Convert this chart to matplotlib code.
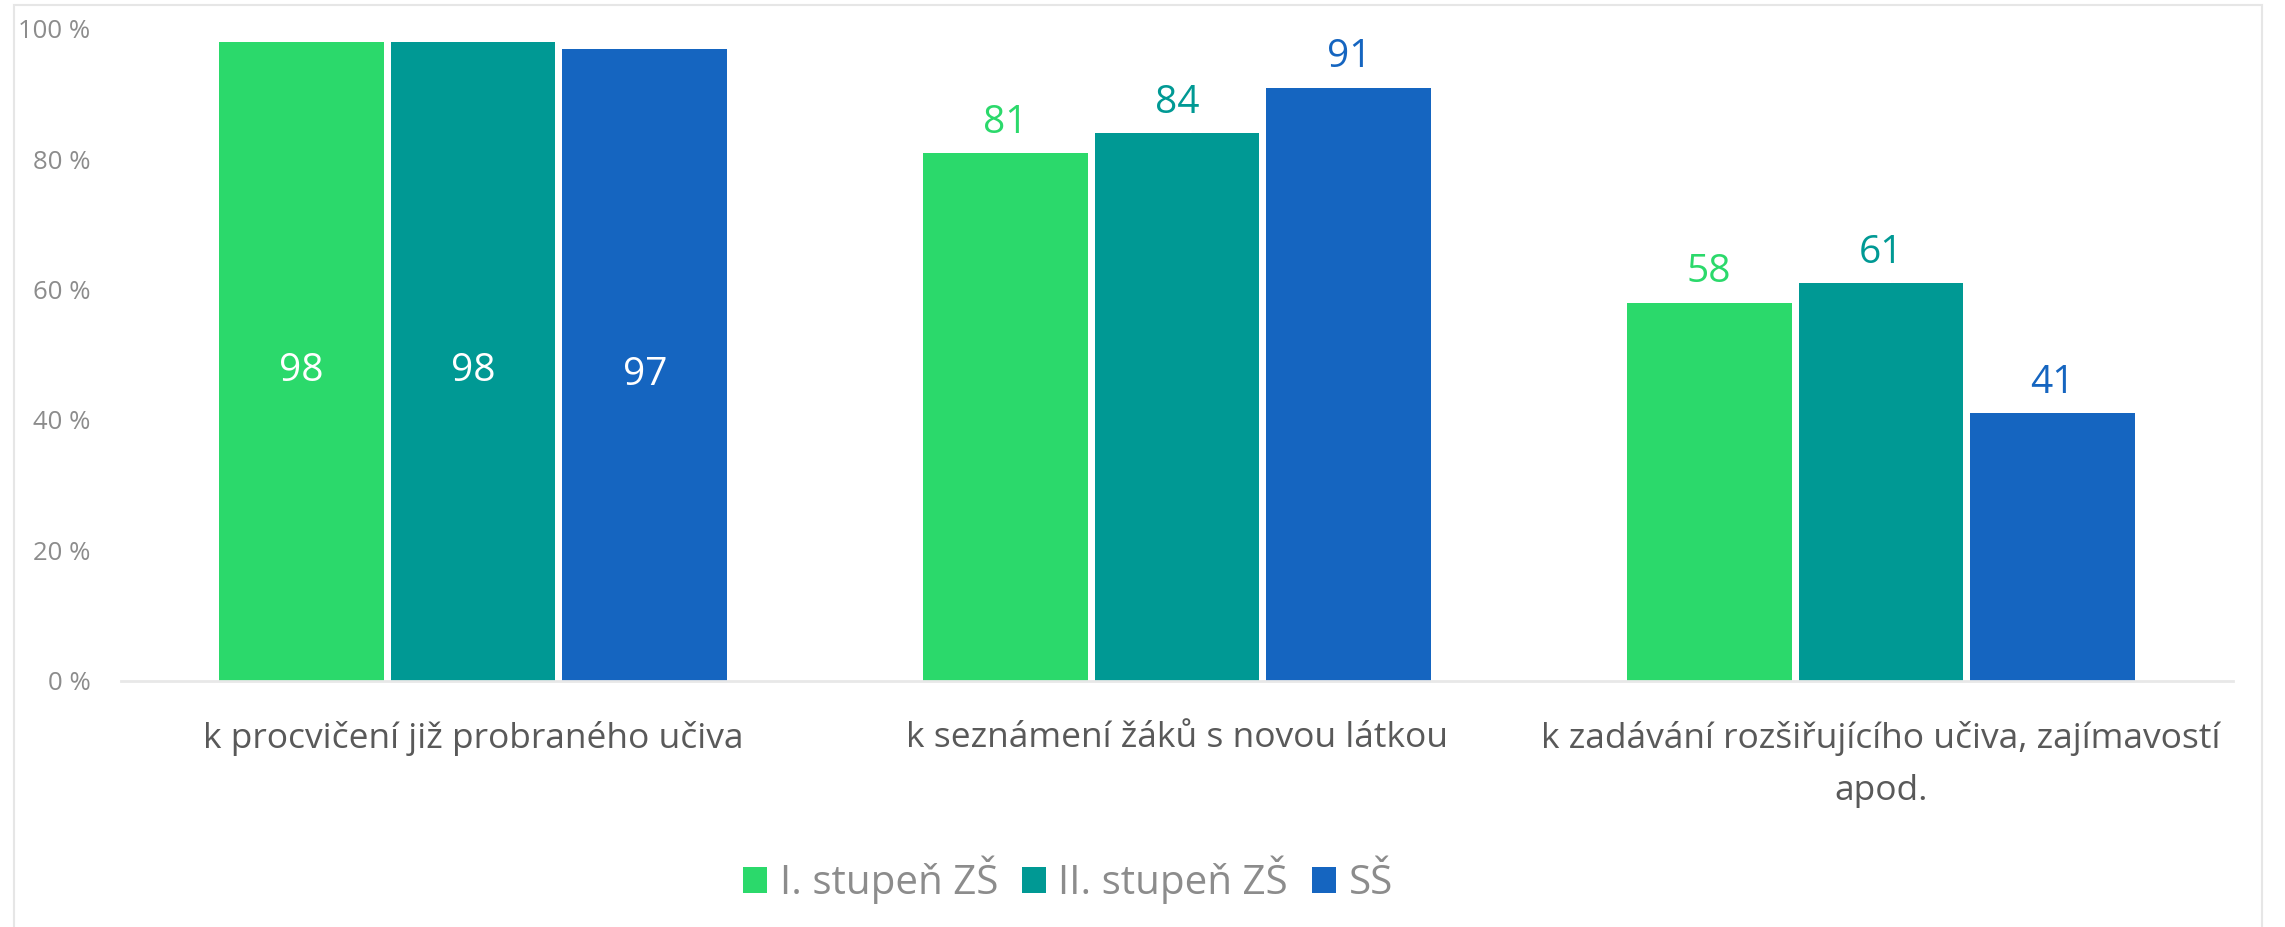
import numpy as np
import matplotlib
matplotlib.use('Agg')
import matplotlib.pyplot as plt
from matplotlib.patches import Patch, Rectangle

plt.rcParams['font.family'] = ['Open Sans', 'DejaVu Sans']

# data
categories = ['k procvičení již probraného učiva',
              'k seznámení žáků s novou látkou',
              'k zadávání rozšiřujícího učiva, zajímavostí\napod.']
series_names = ['I. stupeň ZŠ', 'II. stupeň ZŠ', 'SŠ']
zs1_values = [98, 81, 58]
zs2_values = [98, 84, 61]
ss_values = [97, 91, 41]
y_ticks = [0, 20, 40, 60, 80, 100]

colors = ['#2BD96B', '#009994', '#1565C0']
all_values = [zs1_values, zs2_values, ss_values]

W, H = 2285, 927
fig = plt.figure(figsize=(W / 100, H / 100), dpi=100)

# light frame around the chart
fig.patches.append(Rectangle((14 / W, -0.05), (2262 - 14) / W, 1.05 - 5 / H,
                             transform=fig.transFigure, fill=False,
                             edgecolor='#e6e6e6', linewidth=1.5))

left, right, top, base = 121, 2233, 29, 680.6
ax = fig.add_axes([left / W, 1 - base / H, (right - left) / W, (base - top) / H])

x = np.arange(len(categories))
bar_w = 0.234
step = 0.244

for i, (vals, col) in enumerate(zip(all_values, colors)):
    xs = x + (i - 1) * step
    ax.bar(xs, vals, width=bar_w, color=col, linewidth=0)
    for xi, v in zip(xs, vals):
        if v >= 95:
            # label sits inside the bar
            ax.annotate(f'{v}', (xi, v / 2), xytext=(0, -4), textcoords='offset points',
                        ha='center', va='center_baseline', color='white', fontsize=28)
        else:
            ax.annotate(f'{v}', (xi, v), xytext=(0, 25), textcoords='offset points',
                        ha='center', va='center_baseline', color=col, fontsize=28)

ax.set_xlim(-0.5, 2.5)
ax.set_ylim(0, 100)
ax.set_yticks(y_ticks)
ax.set_yticklabels([f'{t} %' for t in y_ticks])
ax.set_xticks(x)
ax.set_xticklabels(categories, linespacing=1.7)

ax.tick_params(axis='y', length=0, pad=22, labelsize=18.5, labelcolor='#8c8c8c')
ax.tick_params(axis='x', length=0, pad=29, labelsize=25.5, labelcolor='#595959')

for s in ['top', 'right', 'left']:
    ax.spines[s].set_visible(False)
ax.spines['bottom'].set_color('#e8e8e8')
ax.spines['bottom'].set_linewidth(2)

handles = [Patch(facecolor=c, edgecolor='none') for c in colors]
fig.legend(handles, series_names, loc='center', bbox_to_anchor=(1068 / W, 1 - 880 / H),
           ncol=3, frameon=False, fontsize=29, labelcolor='#8c8c8c',
           handlelength=0.6, handleheight=0.6, handletextpad=0.3, columnspacing=0.6)

fig.savefig('out.png', dpi=100, facecolor='white')
